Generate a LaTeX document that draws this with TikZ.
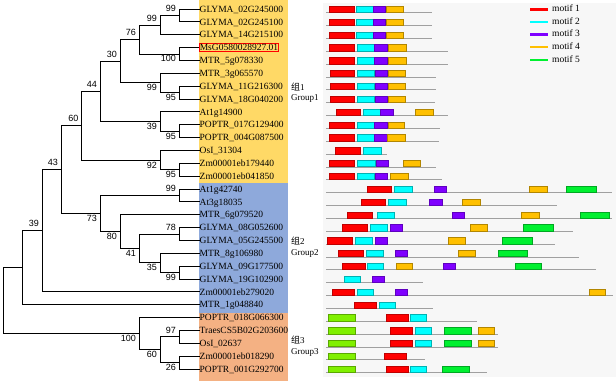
\documentclass[tikz,border=0pt]{standalone}
\usepackage{fontspec}
\setmainfont{Liberation Serif}
\newfontfamily\cjkfont{Noto Sans CJK SC}
\newfontfamily\numfont{Liberation Sans}
\definecolor{grpA}{HTML}{FFD966}
\definecolor{grpB}{HTML}{8EA9DB}
\definecolor{grpC}{HTML}{F4B183}
\definecolor{panel}{HTML}{F7F7F7}
\definecolor{mR}{HTML}{FF0000}
\definecolor{mC}{HTML}{00FFFF}
\definecolor{mP}{HTML}{7F00FF}
\definecolor{mO}{HTML}{FFC000}
\definecolor{mG}{HTML}{00F030}
\definecolor{mL}{HTML}{80F000}
\definecolor{bline}{HTML}{A0A0A0}
\tikzset{
  br/.style={line width=0.9pt, black},
  leaf/.style={anchor=west, inner sep=0pt, text height=6.3pt, text depth=0pt, font=\fontsize{9.5}{10}\selectfont},
  bs/.style={inner sep=0pt, font=\numfont\fontsize{9}{10}\selectfont},
  bsa/.style={bs, anchor=south east, xshift=-3pt, yshift=3.5pt},
  bsb/.style={bs, anchor=north east, xshift=-3pt, yshift=-1.5pt},
  grp/.style={anchor=base west, inner sep=0pt, font=\fontsize{9}{10}\selectfont},
  leg/.style={anchor=west, inner sep=0pt, text height=6.3pt, text depth=0pt, font=\fontsize{9.5}{10}\selectfont},
  legline/.style={line width=2.5pt},
  motR/.style={fill=mR, draw=mR!75!black, line width=0.4pt},
  motC/.style={fill=mC, draw=mC!70!black, line width=0.4pt},
  motP/.style={fill=mP, draw=mP!75!black, line width=0.4pt},
  motO/.style={fill=mO, draw=mO!70!black, line width=0.4pt},
  motG/.style={fill=mG, draw=mG!70!black, line width=0.4pt},
  motL/.style={fill=mL, draw=mL!70!black, line width=0.4pt},
  gline/.style={draw=bline, line width=0.9pt},
}
\newcommand\motifrow[3]{%
  \draw[gline] (326,{#1+3.8}) -- (#2,{#1+3.8});
  \foreach \t/\a/\b in {#3} {\draw[mot\t] (\a,{#1-3}) rectangle (\b,{#1+3.3});}%
}
\begin{document}
\begin{tikzpicture}[x=1pt,y=-1pt]
\useasboundingbox (0,0) rectangle (616,383);
% backgrounds
\fill[grpA] (199,0) rectangle (288,183);
\fill[grpB] (199,183) rectangle (288,312.5);
\fill[grpC] (199,312.5) rectangle (288,381);
\fill[panel] (323,3) rectangle (616,377);

% leaves
\node[leaf] (L0) at (199.5,9.00) {GLYMA\_02G245000};
\node[leaf] (L1) at (199.5,21.86) {GLYMA\_02G245100};
\node[leaf] (L2) at (199.5,34.71) {GLYMA\_14G215100};
\node[leaf, draw=red, line width=0.6pt, inner xsep=0.5pt, inner ysep=1pt] (L3) at (199,47.57) {MsG0580028927.01};
\node[leaf] (L4) at (199.5,60.43) {MTR\_5g078330};
\node[leaf] (L5) at (199.5,73.29) {MTR\_3g065570};
\node[leaf] (L6) at (199.5,86.14) {GLYMA\_11G216300};
\node[leaf] (L7) at (199.5,99.00) {GLYMA\_18G040200};
\node[leaf] (L8) at (199.5,111.86) {At1g14900};
\node[leaf] (L9) at (199.5,124.71) {POPTR\_017G129400};
\node[leaf] (L10) at (199.5,137.57) {POPTR\_004G087500};
\node[leaf] (L11) at (199.5,150.43) {OsI\_31304};
\node[leaf] (L12) at (199.5,163.29) {Zm00001eb179440};
\node[leaf] (L13) at (199.5,176.14) {Zm00001eb041850};
\node[leaf] (L14) at (199.5,189.00) {At1g42740};
\node[leaf] (L15) at (199.5,201.86) {At3g18035};
\node[leaf] (L16) at (199.5,214.71) {MTR\_6g079520};
\node[leaf] (L17) at (199.5,227.57) {GLYMA\_08G052600};
\node[leaf] (L18) at (199.5,240.43) {GLYMA\_05G245500};
\node[leaf] (L19) at (199.5,253.29) {MTR\_8g106980};
\node[leaf] (L20) at (199.5,266.14) {GLYMA\_09G177500};
\node[leaf] (L21) at (199.5,279.00) {GLYMA\_19G102900};
\node[leaf] (L22) at (199.5,291.86) {Zm00001eb279020};
\node[leaf] (L23) at (199.5,304.71) {MTR\_1g048840};
\node[leaf] (L24) at (199.5,317.57) {POPTR\_018G066300};
\node[leaf] (L25) at (199.5,330.43) {TraesCS5B02G203600};
\node[leaf] (L26) at (199.5,343.29) {OsI\_02637};
\node[leaf] (L27) at (199.5,356.14) {Zm00001eb018290};
\node[leaf] (L28) at (199.5,369.00) {POPTR\_001G292700};

% internal nodes
\coordinate (a1) at (179,15.43);
\coordinate (a2) at (160,25.07);
\coordinate (a3) at (179,54.00);
\coordinate (a4) at (139,39.54);
\coordinate (a5) at (179,92.57);
\coordinate (a6) at (160,82.93);
\coordinate (a7) at (120,61.23);
\coordinate (a8) at (179,131.14);
\coordinate (a9) at (160,121.50);
\coordinate (a10) at (100,91.37);
\coordinate (a11) at (179,169.71);
\coordinate (a12) at (160,160.07);
\coordinate (a13) at (81.5,125.72);
\coordinate (b1) at (179,195.43);
\coordinate (b2) at (179,234.00);
\coordinate (b3) at (179,272.57);
\coordinate (b4) at (160,262.93);
\coordinate (b5) at (139,248.46);
\coordinate (b6) at (120,231.59);
\coordinate (b7) at (100,213.51);
\coordinate (c1) at (61,169.61);
\coordinate (c2) at (42,230.74);
\coordinate (c3) at (22,267.72);
\coordinate (g1) at (179,336.86);
\coordinate (g2) at (179,362.57);
\coordinate (g3) at (160,349.71);
\coordinate (g4) at (139,333.64);
\coordinate (rt) at (3,300.68);

% branches
\draw[br] (a1) |- (L0.west);  \draw[br] (a1) |- (L1.west);
\draw[br] (a2) |- (a1);       \draw[br] (a2) |- (L2.west);
\draw[br] (a3) |- (L3.west);  \draw[br] (a3) |- (L4.west);
\draw[br] (a4) |- (a2);       \draw[br] (a4) |- (a3);
\draw[br] (a5) |- (L6.west);  \draw[br] (a5) |- (L7.west);
\draw[br] (a6) |- (L5.west);  \draw[br] (a6) |- (a5);
\draw[br] (a7) |- (a4);       \draw[br] (a7) |- (a6);
\draw[br] (a8) |- (L9.west);  \draw[br] (a8) |- (L10.west);
\draw[br] (a9) |- (L8.west);  \draw[br] (a9) |- (a8);
\draw[br] (a10) |- (a7);      \draw[br] (a10) |- (a9);
\draw[br] (a11) |- (L12.west); \draw[br] (a11) |- (L13.west);
\draw[br] (a12) |- (L11.west); \draw[br] (a12) |- (a11);
\draw[br] (a13) |- (a10);     \draw[br] (a13) |- (a12);
\draw[br] (b1) |- (L14.west); \draw[br] (b1) |- (L15.west);
\draw[br] (b2) |- (L17.west); \draw[br] (b2) |- (L18.west);
\draw[br] (b3) |- (L20.west); \draw[br] (b3) |- (L21.west);
\draw[br] (b4) |- (L19.west); \draw[br] (b4) |- (b3);
\draw[br] (b5) |- (b2);       \draw[br] (b5) |- (b4);
\draw[br] (b6) |- (L16.west); \draw[br] (b6) |- (b5);
\draw[br] (b7) |- (b1);       \draw[br] (b7) |- (b6);
\draw[br] (c1) |- (a13);      \draw[br] (c1) |- (b7);
\draw[br] (c2) |- (c1);       \draw[br] (c2) |- (L22.west);
\draw[br] (c3) |- (c2);       \draw[br] (c3) |- (L23.west);
\draw[br] (g1) |- (L25.west); \draw[br] (g1) |- (L26.west);
\draw[br] (g2) |- (L27.west); \draw[br] (g2) |- (L28.west);
\draw[br] (g3) |- (g1);       \draw[br] (g3) |- (g2);
\draw[br] (g4) |- (L24.west); \draw[br] (g4) |- (g3);
\draw[br] (rt) |- (c3);       \draw[br] (rt) |- (g4);

% bootstrap values
\node[bsa] (v1) at (a1) {99};
\node[bsa] (v2) at (a2) {99};
\node[bsb] (v3) at (a3) {100};
\node[bsa] (v4) at (a4) {76};
\node[bsb] (v5) at (a5) {95};
\node[bsb] (v6) at (a6) {99};
\node[bsa] (v7) at (a7) {30};
\node[bsb] (v8) at (a8) {95};
\node[bsb] (v9) at (a9) {39};
\node[bsa] (v10) at (a10) {44};
\node[bsb] (v11) at (a11) {95};
\node[bsb] (v12) at (a12) {92};
\node[bsa] (v13) at (a13) {60};
\node[bsa] (w1) at (b1) {99};
\node[bsa] (w2) at (b2) {78};
\node[bsb] (w3) at (b3) {99};
\node[bsb] (w4) at (b4) {35};
\node[bsb] (w5) at (b5) {41};
\node[bsb] (w6) at (b6) {80};
\node[bsb] (w7) at (b7) {73};
\node[bsa] (x1) at (c1) {43};
\node[bsa] (x2) at (c2) {39};
\node[bsa] (y1) at (g1) {97};
\node[bsb] (y2) at (g2) {26};
\node[bsb] (y3) at (g3) {60};
\node[bsb] (y4) at (g4) {100};

% group labels
\node[grp] (G1a) at (291,90.5) {{\cjkfont 组}1};
\node[grp] (G1b) at (291,100.5) {Group1};
\node[grp] (G2a) at (291,244) {{\cjkfont 组}2};
\node[grp] (G2b) at (291,255) {Group2};
\node[grp] (G3a) at (291,343.5) {{\cjkfont 组}3};
\node[grp] (G3b) at (291,354) {Group3};

% motif rows
\motifrow{9.00}{432}{R/329/354, C/356/373, P/373/385, O/386/403}
\motifrow{21.86}{432}{R/329/354, C/356/373, P/373/385, O/386/403}
\motifrow{34.71}{432}{R/329/354, C/356/373, P/373/385, O/386/403}
\motifrow{47.57}{448}{R/329/354, C/357/374, P/374/387, O/388/406}
\motifrow{60.43}{448}{R/329/354, C/357/374, P/374/387, O/388/406}
\motifrow{73.29}{436}{R/330/354, C/357/374, P/375/387, O/388/405}
\motifrow{86.14}{436}{R/330/354, C/357/374, P/375/387, O/388/405}
\motifrow{99.00}{435}{R/330/354, C/357/374, P/375/387, O/388/405}
\motifrow{111.86}{448}{R/336/360, C/363/380, P/380/393, O/415/433}
\motifrow{124.71}{440}{R/329/354, C/357/374, P/374/387, O/388/404}
\motifrow{137.57}{439}{R/329/354, C/357/374, P/374/387, O/387/405}
\motifrow{150.43}{387}{R/335/360, C/363/381}
\motifrow{163.29}{436}{R/329/354, C/357/375, P/376/388, O/403/420}
\motifrow{176.14}{442}{R/329/354, C/357/374, P/375/387, O/390/408}
\motifrow{189.00}{612}{R/367/391, C/394/412, P/434/446, O/529/547, G/566/596}
\motifrow{201.86}{557}{R/361/385, C/388/406, P/429/442, O/462/480}
\motifrow{214.71}{612}{R/347/372, C/377/394, P/452/464, O/521/539, G/580/609}
\motifrow{227.57}{573}{R/342/367, C/370/387, P/390/402, O/470/487, G/523/553}
\motifrow{240.43}{555}{R/327/352, C/355/372, P/375/387, O/448/465, G/502/532}
\motifrow{253.29}{579}{R/338/363, C/366/383, P/395/407, O/458/475, G/498/527}
\motifrow{266.14}{596}{R/342/365, C/367/383, O/396/412, P/443/455, G/515/541}
\motifrow{279.00}{423}{C/344/360, P/372/384}
\motifrow{291.86}{613}{R/332/354, C/357/373, P/395/407, O/589/605}
\motifrow{304.71}{433}{R/354/376, C/379/395}
\motifrow{317.57}{477}{L/328/355, R/386/408, C/410/426}
\motifrow{330.43}{498}{L/328/355, R/390/412, C/415/431, G/444/471, O/478/494}
\motifrow{343.29}{498}{L/328/355, R/390/412, C/415/431, G/444/471, O/478/494}
\motifrow{356.14}{425}{L/328/355, R/384/406}
\motifrow{369.00}{487}{L/328/355, R/386/408, C/410/426, G/442/469}

% legend
\coordinate (k1a) at (530,9.3);  \coordinate (k1b) at (548,9.3);
\coordinate (k2a) at (530,22);   \coordinate (k2b) at (548,22);
\coordinate (k3a) at (530,34.5); \coordinate (k3b) at (548,34.5);
\coordinate (k4a) at (530,47.2); \coordinate (k4b) at (548,47.2);
\coordinate (k5a) at (530,60);   \coordinate (k5b) at (548,60);
\draw[legline, mR] (k1a) -- (k1b);
\draw[legline, mC] (k2a) -- (k2b);
\draw[legline, mP] (k3a) -- (k3b);
\draw[legline, mO] (k4a) -- (k4b);
\draw[legline, mG] (k5a) -- (k5b);
\node[leg] (k1) at (552,8.5) {motif 1};
\node[leg] (k2) at (552,21.2) {motif 2};
\node[leg] (k3) at (552,33.7) {motif 3};
\node[leg] (k4) at (552,46.4) {motif 4};
\node[leg] (k5) at (552,59.2) {motif 5};
\end{tikzpicture}
\end{document}
